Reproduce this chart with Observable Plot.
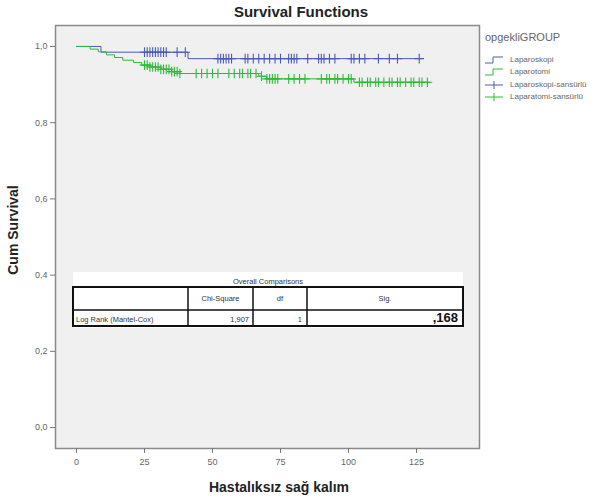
<!DOCTYPE html>
<html>
<head>
<meta charset="utf-8">
<script src="https://cdn.jsdelivr.net/npm/d3@7"></script>
<script src="https://cdn.jsdelivr.net/npm/@observablehq/plot@0.6"></script>
<style>
  html, body { margin: 0; padding: 0; background: #ffffff; }
  #wrap { position: relative; width: 602px; height: 502px; font-family: "Liberation Sans", Arial, sans-serif; overflow: hidden; }
  #wrap svg.plot { position: absolute; left: 0; top: 0; }
  .abs { position: absolute; white-space: nowrap; }
</style>
</head>
<body>
<div id="wrap"></div>
<script>
// ---- data ----
const title = "Survival Functions";
const xLabel = "Hastalıksız sağ kalım";
const yLabel = "Cum Survival";
const xTicks = [0, 25, 50, 75, 100, 125];
const yTicks = [0, 0.2, 0.4, 0.6, 0.8, 1.0];
const legendTitle = "opgekliGROUP";
const groups = ["Laparoskopi", "Laparotomi"];
const legendLabels = ["Laparoskopi", "Laparotomi", "Laparoskopi-sansürlü", "Laparatomi-sansürlü"];
const colors = ["#4a5cb0", "#2fba3c"];

// step survival curves (time, cumulative survival)
const laparoskopiTime = [0, 9, 41, 127];
const laparoskopiSurv = [1.0, 0.985, 0.968, 0.968];
const laparotomiTime = [0, 5, 8, 11, 14, 17, 21, 24, 27, 31, 35, 38, 67, 70, 102, 130];
const laparotomiSurv = [1.0, 0.993, 0.986, 0.978, 0.971, 0.964, 0.958, 0.951, 0.946, 0.940, 0.934, 0.929, 0.922, 0.915, 0.906, 0.906];

// censored times
const laparoskopiCensored = [25, 26, 27, 28, 29, 30, 31, 32, 33, 37, 40,
  52, 53, 54, 55, 56, 57, 62, 63, 65, 67, 69, 71, 73, 75, 78, 79, 80, 81, 85,
  89, 90, 91, 93, 95, 101, 102, 104, 106, 111, 115, 118, 126];
const laparotomiCensored = [25, 26, 27, 28, 29, 30, 31, 32, 33, 34, 35, 36, 37, 38,
  44, 46, 48, 50, 52, 56, 58, 60, 61, 63, 64, 66, 68, 70, 71, 72, 73, 74,
  78, 80, 82, 84, 90, 92, 93, 95, 96, 98, 100, 101,
  104, 105, 107, 108, 110, 111, 113, 115, 116, 118, 119, 121, 123, 124, 126, 127, 129];

// overall comparisons table
const tableTitle = "Overall Comparisons";
const tableHeader = ["", "Chi-Square", "df", "Sig."];
const tableRow = ["Log Rank (Mantel-Cox)", "1,907", "1", ",168"];

// ---- build tables for the library ----
function stepRows(times, surv, group) {
  return times.map((t, i) => ({time: t, surv: surv[i], group}));
}
function censorRows(times, stepT, stepS, group) {
  return times.map(t => {
    let idx = 0;
    for (let i = 0; i < stepT.length; i++) if (stepT[i] <= t) idx = i;
    return {time: t, surv: stepS[idx], group};
  });
}
const lines = [
  ...stepRows(laparoskopiTime, laparoskopiSurv, groups[0]),
  ...stepRows(laparotomiTime, laparotomiSurv, groups[1])
];
const censored = [
  ...censorRows(laparoskopiCensored, laparoskopiTime, laparoskopiSurv, groups[0]),
  ...censorRows(laparotomiCensored, laparotomiTime, laparotomiSurv, groups[1])
];

const fmt = d => d.toFixed(1).replace(".", ",");

const plot = Plot.plot({
  width: 602,
  height: 502,
  marginLeft: 55,
  marginRight: 123,
  marginTop: 25,
  marginBottom: 54,
  style: {background: "transparent", fontFamily: "'Liberation Sans', Arial, sans-serif"},
  x: {domain: [-7.72, 148.16]},
  y: {domain: [-0.055, 1.055]},
  color: {domain: groups, range: colors},
  marks: [
    Plot.frame({fill: "#f0f0f0", stroke: "#8a8a8a", strokeWidth: 1.5}),
    Plot.axisX({ticks: xTicks, tickSize: 5, tickPadding: 5, fontSize: 9, color: "#666", stroke: "#777", label: null}),
    Plot.axisY({ticks: yTicks, tickSize: 5, tickPadding: 3, fontSize: 9, color: "#666", stroke: "#777", tickFormat: fmt, label: null}),
    Plot.line(lines, {x: "time", y: "surv", z: "group", stroke: "group", curve: "step-after", strokeWidth: 1}),
    Plot.dot(censored, {x: "time", y: "surv", stroke: "group", symbol: "plus", r: 3.2, strokeWidth: 1.1})
  ]
});
plot.classList.add("plot");
const wrap = document.getElementById("wrap");
wrap.appendChild(plot);

function addDiv(html, css) {
  const d = document.createElement("div");
  d.className = "abs";
  d.innerHTML = html;
  Object.assign(d.style, css);
  wrap.appendChild(d);
  return d;
}

// title
addDiv(title, {left: "0px", width: "602px", top: "3px", textAlign: "center", fontWeight: "bold", fontSize: "15px", color: "#222"});
// x label
addDiv(xLabel, {left: "0px", width: "558px", top: "479px", textAlign: "center", fontWeight: "bold", fontSize: "14px", color: "#222"});
// y label
addDiv(yLabel, {left: "13px", top: "230px", fontWeight: "bold", fontSize: "14px", color: "#222", transform: "translate(-50%, -50%) rotate(-90deg)"});

// legend
addDiv(legendTitle, {left: "485px", top: "31px", fontSize: "11px", color: "#666"});
const legendY = [60, 72, 85, 97];
legendLabels.forEach((lab, i) => {
  const c = colors[i % 2];
  const sym = i < 2
    ? `<svg width="20" height="8" style="vertical-align:middle"><path d="M0,7H8V1H18" fill="none" stroke="${c}" stroke-width="1"/></svg>`
    : `<svg width="20" height="8" style="vertical-align:middle"><path d="M0,4H18M9,0V8" fill="none" stroke="${c}" stroke-width="1"/></svg>`;
  addDiv(sym, {left: "485px", top: (legendY[i] - 5) + "px", lineHeight: "8px"});
  addDiv(lab, {left: "510px", top: (legendY[i] - 5) + "px", fontSize: "8px", color: "#666"});
});

// overall comparisons table
const tbl = document.createElement("div");
tbl.className = "abs";
Object.assign(tbl.style, {left: "73px", top: "272px", width: "390px", height: "56px", background: "#ffffff"});
wrap.appendChild(tbl);
const cols = [73, 188, 253, 307, 463];
const tTop = 287, tMid = 310, tBot = 326;
addDiv(tableTitle, {left: "73px", width: "390px", top: "277px", textAlign: "center", fontSize: "7.5px", color: "#333"});
// borders via svg
const ns = "http://www.w3.org/2000/svg";
const bsvg = document.createElementNS(ns, "svg");
bsvg.setAttribute("width", 602); bsvg.setAttribute("height", 502);
bsvg.style.position = "absolute"; bsvg.style.left = "0"; bsvg.style.top = "0";
const r = document.createElementNS(ns, "rect");
r.setAttribute("x", cols[0]); r.setAttribute("y", tTop);
r.setAttribute("width", cols[4] - cols[0]); r.setAttribute("height", tBot - tTop);
r.setAttribute("fill", "#fff"); r.setAttribute("stroke", "#111"); r.setAttribute("stroke-width", 2);
bsvg.appendChild(r);
const hl = document.createElementNS(ns, "line");
hl.setAttribute("x1", cols[0]); hl.setAttribute("x2", cols[4]); hl.setAttribute("y1", tMid); hl.setAttribute("y2", tMid);
hl.setAttribute("stroke", "#111"); hl.setAttribute("stroke-width", 1.5);
bsvg.appendChild(hl);
cols.slice(1, 4).forEach(x => {
  const l = document.createElementNS(ns, "line");
  l.setAttribute("x1", x); l.setAttribute("x2", x); l.setAttribute("y1", tTop); l.setAttribute("y2", tBot);
  l.setAttribute("stroke", "#111"); l.setAttribute("stroke-width", 1.5);
  bsvg.appendChild(l);
});
wrap.appendChild(bsvg);
// header texts (centered)
tableHeader.forEach((h, i) => {
  if (!h) return;
  addDiv(h, {left: cols[i] + "px", width: (cols[i + 1] - cols[i]) + "px", top: "294px", textAlign: "center", fontSize: "7.5px", color: "#333"});
});
// row texts
addDiv(tableRow[0], {left: "76px", top: "315px", fontSize: "7.5px", color: "#333"});
addDiv(tableRow[1], {left: cols[1] + "px", width: (cols[2] - cols[1] - 4) + "px", top: "315px", textAlign: "right", fontSize: "7.5px", color: "#333"});
addDiv(tableRow[2], {left: cols[2] + "px", width: (cols[3] - cols[2] - 5) + "px", top: "315px", textAlign: "right", fontSize: "7.5px", color: "#333"});
addDiv(tableRow[3], {left: cols[3] + "px", width: (cols[4] - cols[3] - 5) + "px", top: "310px", textAlign: "right", fontSize: "13px", fontWeight: "bold", color: "#111"});
</script>
</body>
</html>
